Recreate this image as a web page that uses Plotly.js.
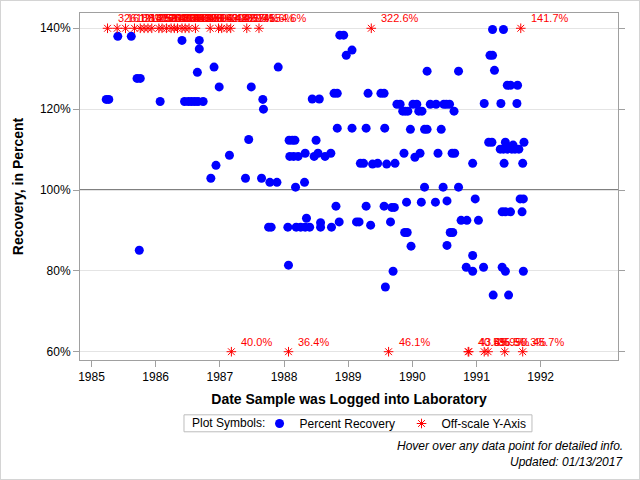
<!DOCTYPE html>
<html>
<head>
<meta charset="utf-8">
<script src="https://cdn.plot.ly/plotly-3.0.1.min.js"></script>
<style>
  html, body { margin: 0; padding: 0; background: #fff; }
  #wrap { position: relative; width: 640px; height: 480px; }
  #chart { width: 640px; height: 480px; }
  #edge { position: absolute; left: 0; top: 0; width: 638px; height: 478px;
          border: 1px solid #d4d4d4; pointer-events: none; }
</style>
</head>
<body>
<div id="wrap">
  <div id="chart"></div>
  <div id="edge"></div>
</div>
<script>
// Sample log date (decimal year) and percent recovery, in-range results
const recoveryDate = [
  1985.41, 1985.62, 1986.41, 1986.68, 1986.68, 1986.91, 1986.65, 1985.71, 1985.76, 1986.99,
  1987.49, 1985.23, 1985.27, 1986.07, 1986.45, 1986.51, 1986.56, 1986.61, 1986.66, 1986.74,
  1987.67, 1987.68, 1987.45, 1987.15, 1986.94, 1986.86, 1987.40, 1987.65, 1985.745,
  1988.87, 1988.93, 1989.06, 1988.97, 1987.91, 1990.23, 1988.44, 1988.55, 1988.78, 1988.83,
  1989.31, 1989.51, 1989.56, 1989.76, 1989.81, 1990.01, 1990.07, 1990.28, 1990.37, 1990.49,
  1989.85, 1989.89, 1989.93, 1990.10, 1990.15, 1988.83, 1989.06, 1989.28, 1989.57, 1989.97,
  1990.19, 1990.23, 1990.45, 1988.08, 1988.13, 1988.17, 1988.50, 1988.09, 1988.15, 1988.22,
  1988.33, 1988.47, 1988.53, 1988.64, 1988.73, 1989.19, 1989.24, 1989.38, 1989.46, 1989.60,
  1989.73, 1989.87, 1990.04, 1990.12, 1990.40, 1987.78, 1987.89, 1988.18, 1988.32, 1990.19,
  1990.48,
  1991.25, 1991.42, 1991.21, 1991.25, 1990.72, 1991.28, 1991.48, 1991.53, 1991.64, 1990.53,
  1990.58, 1991.12, 1991.38, 1991.63, 1990.65, 1991.19, 1991.24, 1991.45, 1991.74, 1991.37,
  1991.42, 1991.48, 1991.55, 1991.60, 1991.66, 1991.57, 1990.62, 1990.66, 1990.94, 1991.43,
  1991.72, 1990.72,
  1988.81, 1989.28, 1989.56, 1989.68, 1989.72, 1989.91, 1990.14, 1990.36, 1990.54, 1987.76,
  1987.80, 1988.06, 1988.19, 1988.26, 1988.33, 1988.40, 1988.35, 1988.57, 1988.57, 1988.74,
  1988.86, 1989.13, 1989.17, 1989.35, 1989.66, 1989.88, 1989.92, 1989.98, 1988.07, 1989.70,
  1989.58,
  1990.98, 1991.68, 1991.73, 1991.40, 1991.45, 1991.53, 1991.71, 1990.76, 1990.85, 1991.03,
  1990.59, 1990.63, 1990.54, 1990.94, 1990.84, 1990.94, 1991.11, 1991.40, 1991.45, 1991.73,
  1991.26, 1991.50
];
const recoveryPct = [
  138.0, 138.0, 137.0, 137.0, 134.9, 130.4, 129.1, 127.6, 127.6, 125.5,
  125.5, 122.4, 122.4, 121.9, 121.9, 121.9, 121.9, 121.9, 121.9, 121.9,
  122.4, 120.0, 112.5, 108.6, 106.1, 102.9, 102.9, 102.9, 85.1,
  138.3, 138.3, 134.6, 133.3, 130.4, 129.4, 122.5, 122.5, 123.9, 123.9,
  123.9, 123.9, 123.9, 121.2, 121.2, 121.2, 121.2, 121.2, 121.2, 121.2,
  119.5, 119.5, 119.5, 119.5, 119.5, 115.3, 115.3, 115.3, 115.3, 115.0,
  115.0, 115.0, 115.0, 112.3, 112.3, 112.3, 112.3, 108.3, 108.3, 108.3,
  109.1, 108.3, 109.1, 108.3, 109.1, 106.6, 106.6, 106.4, 106.6, 106.4,
  106.6, 109.1, 108.1, 109.1, 109.1, 101.9, 101.9, 100.7, 101.9, 100.7,
  100.7,
  139.7, 139.7, 133.3, 133.3, 129.4, 129.6, 125.9, 125.9, 125.9, 121.2,
  121.2, 121.4, 121.4, 121.4, 119.5, 111.8, 111.8, 111.8, 111.8, 110.1,
  110.1, 110.1, 110.1, 110.1, 110.1, 111.1, 109.1, 109.1, 106.6, 106.6,
  106.6, 100.7,
  96.0, 96.0, 96.0, 95.7, 95.7, 97.0, 97.0, 97.0, 97.3, 90.8,
  90.8, 90.8, 90.8, 90.8, 90.8, 90.8, 93.0, 91.9, 90.8, 90.8,
  92.1, 92.1, 92.1, 91.3, 92.1, 89.5, 89.5, 86.1, 81.4, 79.9,
  76.0,
  97.8, 97.8, 97.8, 94.6, 94.6, 94.6, 94.6, 92.5, 92.5, 92.5,
  89.5, 89.5, 86.3, 83.8, 80.9, 79.9, 80.9, 80.9, 79.9, 79.9,
  74.0, 74.0
];

// Results outside the 60%-140% window, with their actual recovery
const offDate = [
  1985.25, 1985.40, 1985.53, 1985.67, 1985.76, 1985.82, 1985.88, 1985.94, 1986.05, 1986.10,
  1986.17, 1986.24, 1986.29, 1986.34, 1986.41, 1986.46, 1986.52, 1986.62, 1986.85, 1986.98,
  1987.03, 1987.11, 1987.17, 1987.42, 1987.61, 1989.36, 1991.69,
  1987.18, 1988.07, 1989.63, 1990.87, 1990.88, 1991.12, 1991.18, 1991.44, 1991.72
];
const offPct = [
  326.1, 161.8, 188.2, 213.5, 147.9, 175.0, 252.4, 166.7, 201.3, 143.8,
  182.6, 219.0, 158.3, 144.4, 237.5, 171.9, 150.0, 196.4, 163.2, 148.6,
  209.1, 142.7, 185.7, 145.6, 154.6, 322.6, 141.7,
  40.0, 36.4, 46.1, 40.5, 43.8, 45.9, 35.5, 50.3, 45.7
];

// Axis settings
const yTicks = [60, 80, 100, 120, 140];
const xTicks = [1985, 1986, 1987, 1988, 1989, 1990, 1991, 1992];
const yLimits = [60, 140];
const targetRecovery = 100;

const FONT = 'Arial, "Liberation Sans", Helvetica, sans-serif';

// Off-scale points are pinned to the nearest edge of the window
const offPinned = offPct.map(v => Math.min(yLimits[1], Math.max(yLimits[0], v)));

const inRange = {
  type: 'scatter', mode: 'markers', name: 'Percent Recovery',
  x: recoveryDate, y: recoveryPct,
  marker: { color: '#0000ff', size: 9, symbol: 'circle', line: { width: 0 } },
  hovertemplate: 'Date: %{x:.2f}<br>Recovery: %{y:.1f}%<extra></extra>'
};

const offScale = {
  type: 'scatter', mode: 'markers', name: 'Off-scale Y-Axis',
  x: offDate, y: offPinned, customdata: offPct,
  marker: { color: '#ff0000', size: 8, symbol: 'asterisk-open',
            line: { color: '#ff0000', width: 1 } },
  hovertemplate: 'Date: %{x:.2f}<br>Recovery: %{customdata:.1f}%<extra></extra>'
};

// Value labels for the off-scale points
const offLabels = offDate.map((d, i) => ({
  x: d, y: offPinned[i], xref: 'x', yref: 'y',
  text: offPct[i].toFixed(1) + '%', showarrow: false,
  xanchor: 'left', yanchor: 'middle', xshift: 8, yshift: 10,
  font: { family: FONT, size: 11, color: '#ff0000' }
}));

const notes = [
  { text: '<i>Hover over any data point for detailed info.</i>', x: 1.013, y: -0.247, xanchor: 'right' },
  { text: '<i>Updated: 01/13/2017</i>', x: 1.013, y: -0.293, xanchor: 'right' },
  { text: 'Plot Symbols:', x: 0.2045, y: -0.1825, xanchor: 'left' }
].map(n => Object.assign({
  xref: 'paper', yref: 'paper', yanchor: 'middle',
  showarrow: false, font: { family: FONT, size: 12, color: '#000' }
}, n));

const layout = {
  width: 640, height: 480,
  margin: { l: 80, r: 22, t: 13, b: 120 },
  paper_bgcolor: '#fff', plot_bgcolor: '#fff',
  font: { family: FONT, size: 12, color: '#000' },
  showlegend: true,
  legend: {
    orientation: 'h', x: 0.3337, xanchor: 'left', y: -0.183, yanchor: 'middle',
    borderwidth: 0, bgcolor: 'rgba(0,0,0,0)',
    entrywidth: 97, entrywidthmode: 'pixels',
    font: { family: FONT, size: 12, color: '#000' },
    itemclick: false, itemdoubleclick: false
  },
  xaxis: {
    range: [1984.821, 1993.205], tickvals: xTicks, ticktext: xTicks.map(String),
    showgrid: false, zeroline: false,
    showline: true, linecolor: '#a0a0a0', linewidth: 1, mirror: true,
    ticks: 'outside', ticklen: 6, tickcolor: '#a0a0a0',
    tickfont: { family: FONT, size: 12, color: '#000' },
    title: { text: '<b>Date Sample was Logged into Laboratory</b>', standoff: 10,
             font: { family: FONT, size: 14, color: '#000' } }
  },
  yaxis: {
    range: [57.95, 143.78], tickvals: yTicks, ticktext: yTicks.map(v => v + '%'),
    showgrid: true, gridcolor: '#e4e4e4', gridwidth: 1, zeroline: false,
    showline: true, linecolor: '#a0a0a0', linewidth: 1, mirror: 'ticks',
    ticks: 'outside', ticklen: 6, tickcolor: '#a0a0a0',
    tickfont: { family: FONT, size: 12, color: '#000' },
    title: { text: '<b>Recovery, in Percent</b>', standoff: 12,
             font: { family: FONT, size: 14, color: '#000' } }
  },
  shapes: [
    { type: 'line', xref: 'paper', x0: 0, x1: 1, yref: 'y',
      y0: targetRecovery, y1: targetRecovery, layer: 'below',
      line: { color: '#000', width: 1 } },
    // frame around the symbol key
    { type: 'rect', xref: 'paper', yref: 'paper',
      x0: 0.1933, x1: 0.8401, y0: -0.2069, y1: -0.158,
      line: { color: '#bdbdbd', width: 1 }, fillcolor: 'rgba(0,0,0,0)' }
  ],
  annotations: offLabels.concat(notes)
};

Plotly.newPlot('chart', [inRange, offScale], layout, { displayModeBar: false });
</script>
</body>
</html>
